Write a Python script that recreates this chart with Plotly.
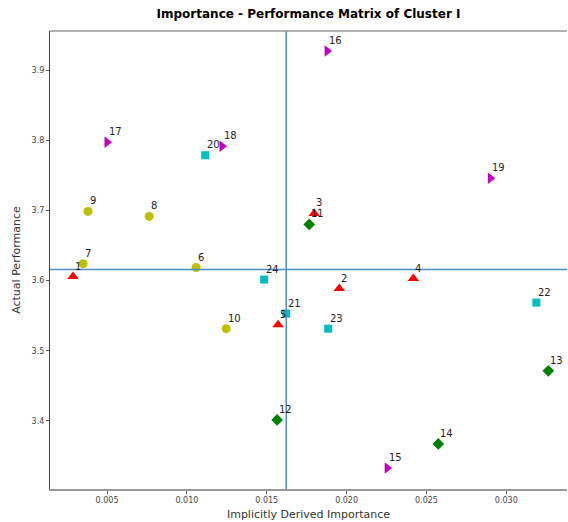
import plotly.graph_objects as go

labels = [str(i) for i in range(1, 25)]
importance = [0.00287, 0.01954, 0.01797, 0.02418, 0.01571, 0.01058, 0.00350, 0.00764,
              0.00381, 0.01246, 0.01766, 0.01565, 0.03263, 0.02574, 0.02254, 0.01878,
              0.00500, 0.01220, 0.02900, 0.01115, 0.01622, 0.03188, 0.01885, 0.01484]
performance = [3.6057, 3.5886, 3.6957, 3.6029, 3.5370, 3.6186, 3.6240, 3.6914,
               3.6986, 3.5314, 3.6800, 3.4014, 3.4714, 3.3671, 3.3329, 3.9271,
               3.7971, 3.7914, 3.7457, 3.7786, 3.5529, 3.5686, 3.5314, 3.6014]
groups = [
    ("red", "triangle-up", 10, [1, 2, 3, 4, 5]),
    ("#bfbf00", "circle", 9, [6, 7, 8, 9, 10]),
    ("green", "diamond", 9, [11, 12, 13, 14]),
    ("#bf00bf", "triangle-right", 10, [15, 16, 17, 18, 19]),
    ("#00bfbf", "square", 8, [20, 21, 22, 23, 24]),
]
mean_importance = 0.01622
mean_performance = 3.6157

fig = go.Figure()
for color, symbol, size, ids in groups:
    fig.add_trace(go.Scatter(
        x=[importance[i - 1] for i in ids],
        y=[performance[i - 1] for i in ids],
        mode="markers",
        marker=dict(color=color, symbol=symbol, size=size, line=dict(width=0)),
        showlegend=False,
    ))

for i, lab in enumerate(labels):
    fig.add_annotation(x=importance[i], y=performance[i], text=lab, showarrow=False,
                       xanchor="left", yanchor="bottom", xshift=0, yshift=3,
                       font=dict(family="DejaVu Sans", size=10, color="#222"))

fig.add_vline(x=mean_importance, line=dict(color="#4a8fca", width=1.5))
fig.add_hline(y=mean_performance, line=dict(color="#4a8fca", width=1.5))

fig.update_layout(
    width=568, height=522,
    margin=dict(l=50, r=1, t=31, b=33),
    paper_bgcolor="white", plot_bgcolor="white",
    title=dict(text="<b>Importance - Performance Matrix of Cluster I</b>",
               x=0.5, xanchor="center", xref="paper", y=0.982, yanchor="top",
               font=dict(family="DejaVu Sans", size=12, color="black")),
    font=dict(family="DejaVu Sans", color="#333"),
    xaxis=dict(range=[0.00143, 0.0338], tickvals=[0.005, 0.010, 0.015, 0.020, 0.025, 0.030],
               ticktext=["0.005", "0.010", "0.015", "0.020", "0.025", "0.030"],
               showgrid=False, zeroline=False, showline=True, linecolor="#999", linewidth=1.5,
               mirror=False, ticks="outside", ticklen=3, tickcolor="#555",
               tickfont=dict(size=8, color="#444"),
               title=dict(text="Implicitly Derived Importance", standoff=6,
                          font=dict(size=11, color="#333"))),
    yaxis=dict(range=[3.3029, 3.9557], tickvals=[3.4, 3.5, 3.6, 3.7, 3.8, 3.9],
               ticktext=["3.4", "3.5", "3.6", "3.7", "3.8", "3.9"],
               showgrid=False, zeroline=False, showline=True, linecolor="#444", linewidth=1.2,
               ticks="outside", ticklen=3, tickcolor="#555",
               tickfont=dict(size=8, color="#444"),
               title=dict(text="Actual Performance", standoff=8,
                          font=dict(size=11, color="#333"))),
)
fig.add_shape(type="line", xref="paper", yref="paper", x0=0, x1=1, y0=1, y1=1,
              line=dict(color="#999", width=1.5))

fig.write_html("out.html")
